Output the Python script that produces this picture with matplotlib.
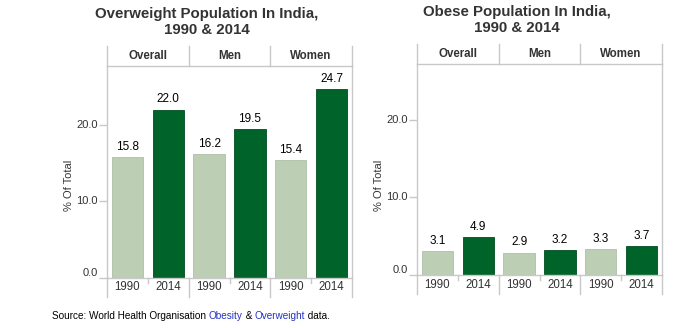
import matplotlib.pyplot as plt

plt.rcParams['font.family'] = ['Liberation Sans', 'DejaVu Sans']

# data
groups = ["Overall", "Men", "Women"]
years = ["1990", "2014"]
overweight_1990 = [15.8, 16.2, 15.4]
overweight_2014 = [22.0, 19.5, 24.7]
obese_1990 = [3.1, 2.9, 3.3]
obese_2014 = [4.9, 3.2, 3.7]
yticks = [0, 10, 20]

light = "#bccfb5"
dark = "#00632a"
grid = "#c8c8c8"
txt = "#333333"

W, H = 689, 328
fig = plt.figure(figsize=(W / 100, H / 100), dpi=100)


def box(x0, y0, x1, y1):
    return [x0 / W, 1 - y1 / H, (x1 - x0) / W, (y1 - y0) / H]


def draw_chart(x0, x1, yh, yt, ybot, ytop_lim, title, title_x, title_y, ylab_x, v90, v14):
    # bars
    ax = fig.add_axes(box(x0, yt, x1, ybot))
    ax.patch.set_visible(False)
    pos90 = [2 * i + 0.5 for i in range(3)]
    pos14 = [2 * i + 1.5 for i in range(3)]
    ax.bar(pos90, v90, width=0.77, color=light, edgecolor="#aebfa7", lw=0.6)
    ax.bar(pos14, v14, width=0.77, color=dark, edgecolor="#004d20", lw=0.6)
    for p, v in zip(pos90 + pos14, v90 + v14):
        ax.annotate(f"{v:.1f}", (p, v), xytext=(0, 3), textcoords="offset points",
                    ha="center", va="bottom", fontsize=8.5, color="black")
    ax.set_xlim(0, 6)
    ax.set_ylim(0, ytop_lim)

    ax.spines["top"].set_visible(False)
    for s in ["left", "right", "bottom"]:
        ax.spines[s].set_color(grid)
        ax.spines[s].set_linewidth(1)

    ax.set_yticks(yticks)
    ax.set_yticklabels([])
    ax.tick_params(axis="y", length=6, color=grid, width=1)
    ax.set_xticks([])
    tr = ax.get_yaxis_transform()
    for v in yticks:
        ax.text(-0.037, v, f"{v:.1f}", transform=tr, ha="right",
                va="bottom" if v == 0 else "center", fontsize=8, color=txt)

    # category labels and separators below axis
    ext = 19 / (ybot - yt)
    xtr = ax.get_xaxis_transform()
    for xv in [0, 2, 4, 6]:
        ax.plot([xv, xv], [0, -ext], color=grid, lw=1, transform=xtr, clip_on=False)
    for xv in [1, 3, 5]:
        ax.plot([xv, xv], [0, -5 / (ybot - yt)], color=grid, lw=1, transform=xtr, clip_on=False)
    for p in pos90 + pos14:
        ax.text(p, -9.5 / (ybot - yt), years[0] if p in pos90 else years[1],
                transform=xtr, ha="center", va="center", fontsize=8.3, color=txt)

    # header strip with group names
    hx = fig.add_axes(box(x0, yh, x1, yt))
    hx.set_xlim(0, 6)
    hx.set_ylim(0, 1)
    hx.axis("off")
    for xv in [0, 2, 4, 6]:
        hx.plot([xv, xv], [0, 1], color=grid, lw=1, clip_on=False)
    hx.plot([0, 6], [0, 0], color=grid, lw=1, clip_on=False)
    for i, g in enumerate(groups):
        hx.text(2 * i + 1, 0.5, g, ha="center", va="center",
                fontsize=8.3, fontweight="bold", color=txt)

    fig.text(ylab_x / W, 1 - 185 / H, "% Of Total", rotation=90, ha="center",
             va="center", fontsize=8, color=txt)
    fig.text(title_x / W, 1 - title_y / H, title, ha="center", va="center",
             fontsize=10.8, fontweight="bold", color=txt, linespacing=1.2)
    return ax


ax1 = draw_chart(107, 352, 46, 66, 278, 27.7,
                 "Overweight Population In India,\n1990 & 2014", 207, 22, 69,
                 overweight_1990, overweight_2014)
ax2 = draw_chart(417, 662, 44, 64, 275, 27.2,
                 "Obese Population In India,\n1990 & 2014", 517, 20, 379,
                 obese_1990, obese_2014)

# source line with coloured links
parts = [("Source: World Health Organisation ", "black"), ("Obesity", "#2433c0"),
         (" & ", "black"), ("Overweight", "#2433c0"), (" data.", "black")]
t = fig.text(52 / W, 1 - 316 / H, parts[0][0], ha="left", va="center",
             fontsize=7.2, color=parts[0][1])
for s, c in parts[1:]:
    t = ax1.annotate(s, xy=(1, 0), xycoords=t, ha="left", va="bottom",
                     fontsize=7.2, color=c, annotation_clip=False)

fig.savefig("out.png", dpi=100)
